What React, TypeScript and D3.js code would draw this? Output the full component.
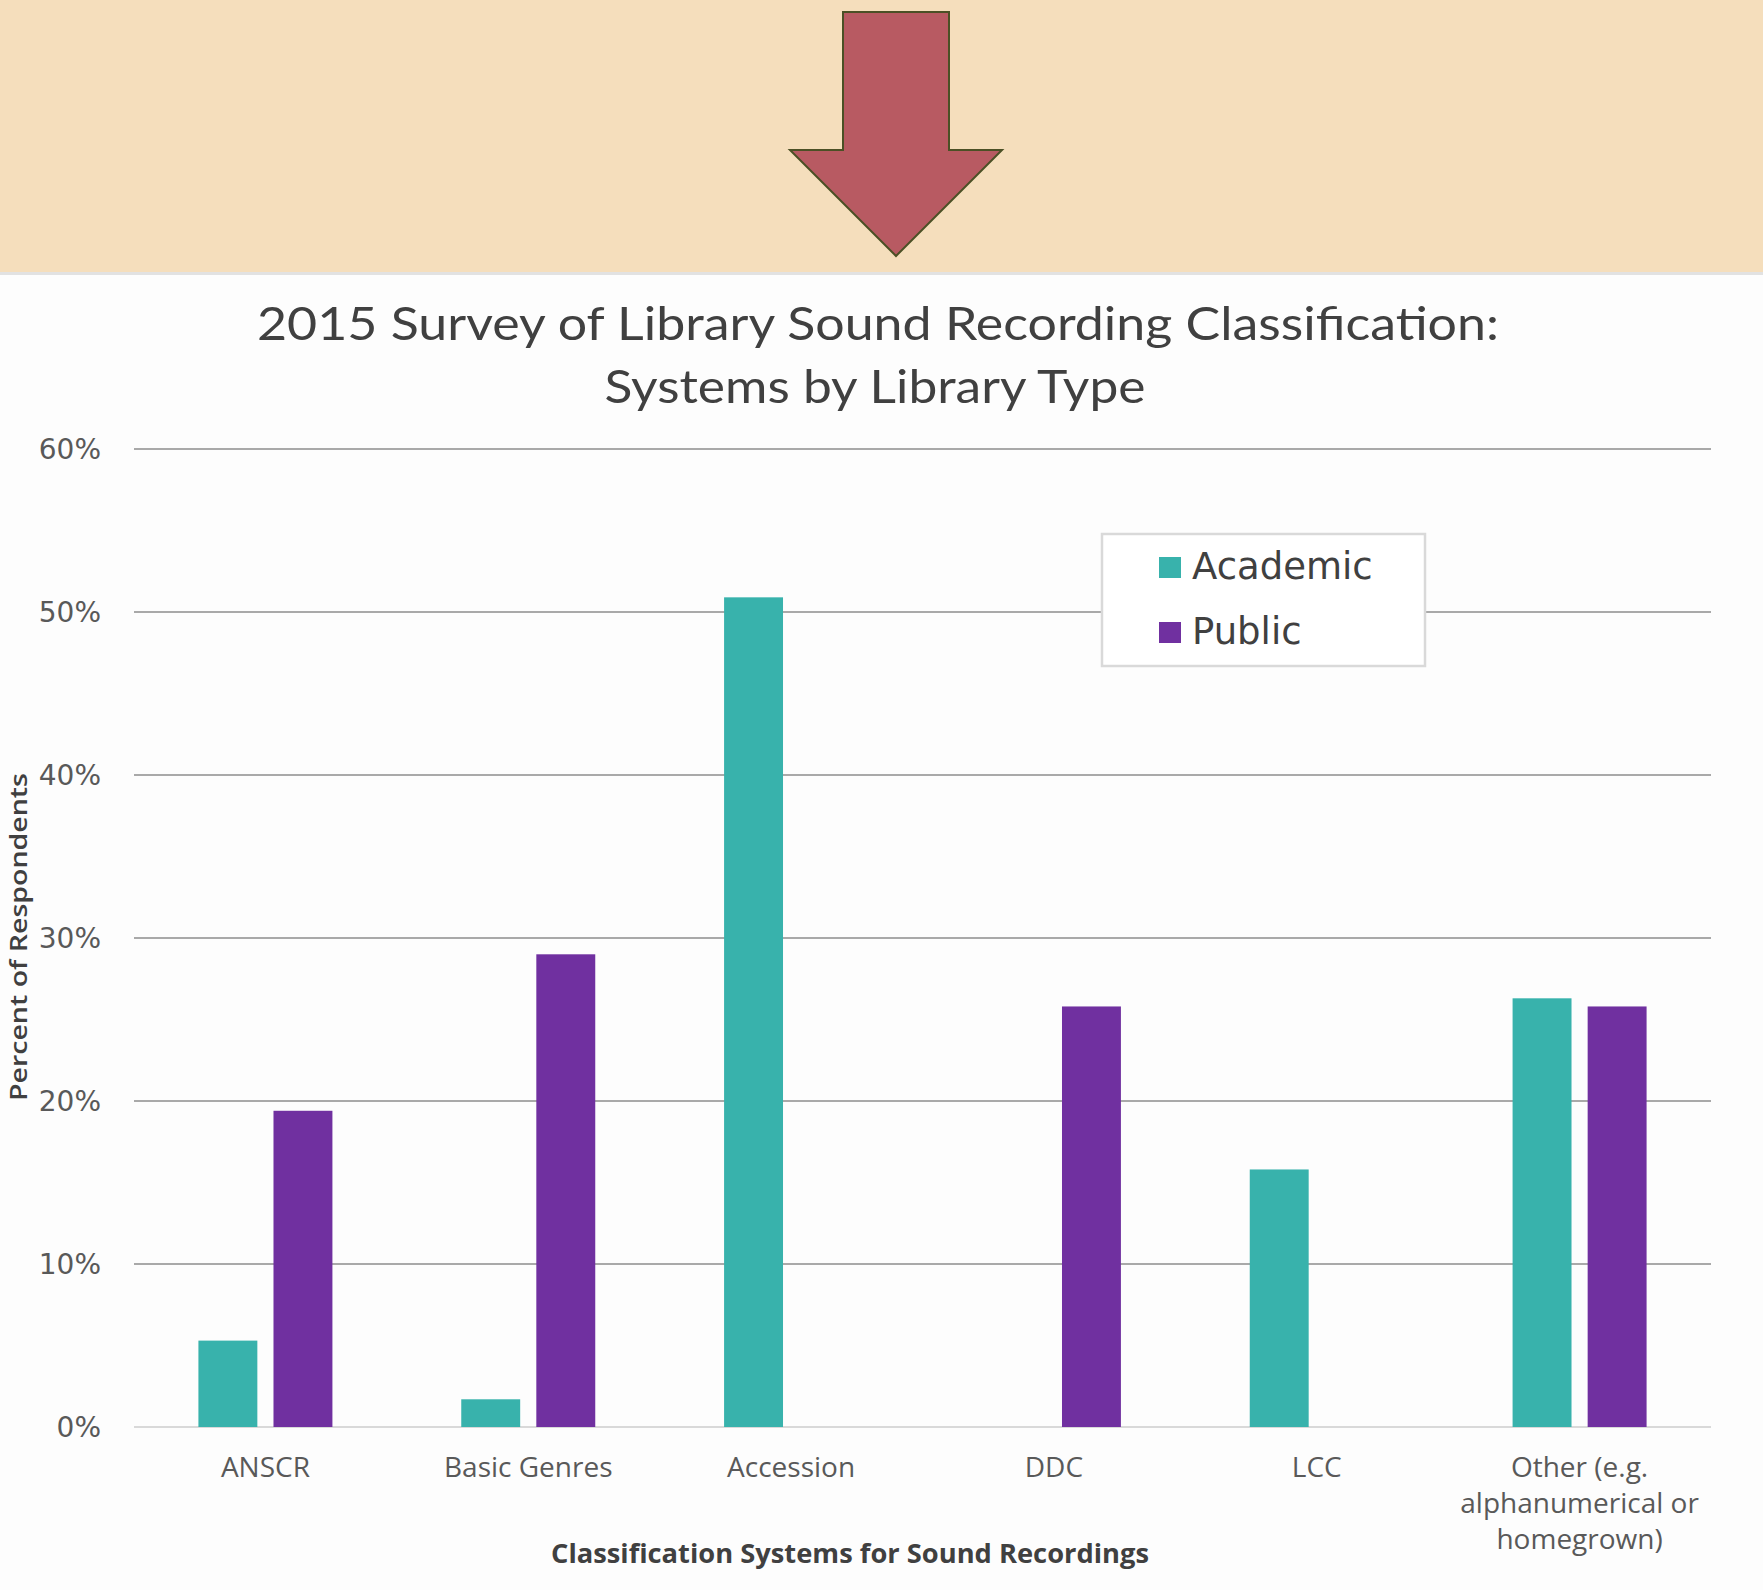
import React from "react";
import * as d3 from "d3";

const categories = [
  ["ANSCR"],
  ["Basic Genres"],
  ["Accession"],
  ["DDC"],
  ["LCC"],
  ["Other (e.g.", "alphanumerical or", "homegrown)"],
];
const seriesNames = ["Academic", "Public"];
const academic = [0.053, 0.017, 0.509, 0, 0.158, 0.263];
const publicLib = [0.194, 0.29, 0, 0.258, 0, 0.258];
const yTicks = [0, 0.1, 0.2, 0.3, 0.4, 0.5, 0.6];
const colors = ["#38B2AC", "#7030A0"];

const W = 1763;
const H = 1590;
const left = 134;
const right = 1711;
const top = 449;
const bottom = 1427;

export default function App() {
  const x0 = d3
    .scaleBand()
    .domain(categories.map((c) => c.join(" ")))
    .range([left, right])
    .padding(0);
  const x1 = d3.scaleBand().domain(seriesNames).range([-67, 67]).paddingInner(0.215);
  const y = d3.scaleLinear().domain([0, 0.6]).range([bottom, top]);
  const fmt = d3.format(".0%");
  const values = [academic, publicLib];

  return (
    <svg
      width={W}
      height={H}
      style={{ position: "absolute", left: 0, top: 0, background: "#fdfdfd" }}
    >
      {/* slide header with arrow */}
      <rect x={0} y={0} width={W} height={272} fill="#F5DEBC" />
      <rect x={0} y={272} width={W} height={3} fill="#e2e2e2" />
      <polygon
        points="843,12 949,12 949,150 1002,150 896,256 790,150 843,150"
        fill="#B85A62"
        stroke="#4B5025"
        strokeWidth={2}
      />

      {/* title */}
      <g fontFamily="Lato, 'Noto Sans', sans-serif" fill="#404040" fontSize={47}>
        <text x={878} y={340} textAnchor="middle" textLength={1242} lengthAdjust="spacingAndGlyphs">
          2015 Survey of Library Sound Recording Classification:
        </text>
        <text x={875} y={403} textAnchor="middle" textLength={541} lengthAdjust="spacingAndGlyphs">
          Systems by Library Type
        </text>
      </g>

      {/* gridlines + y ticks */}
      {yTicks.map((t) => (
        <g key={t}>
          <line
            x1={left}
            x2={right}
            y1={y(t)}
            y2={y(t)}
            stroke={t === 0 ? "#d9d9d9" : "#8c8c8c"}
            strokeWidth={t === 0 ? 2 : 1.5}
          />
          <text
            x={101}
            y={y(t)}
            dy="0.36em"
            textAnchor="end"
            fontFamily="'DejaVu Sans', sans-serif"
            fontSize={28}
            fill="#595959"
          >
            {fmt(t)}
          </text>
        </g>
      ))}

      {/* bars */}
      {categories.map((c, i) => {
        const cx = x0(c.join(" "))! + x0.bandwidth() / 2;
        return (
          <g key={i}>
            {seriesNames.map((s, j) =>
              values[j][i] > 0 ? (
                <rect
                  key={s}
                  x={cx + x1(s)!}
                  y={y(values[j][i])}
                  width={x1.bandwidth()}
                  height={bottom - y(values[j][i])}
                  fill={colors[j]}
                />
              ) : null
            )}
            <text
              x={cx}
              y={1477}
              textAnchor="middle"
              fontFamily="'Open Sans', sans-serif"
              fontSize={28}
              fill="#595959"
            >
              {c.map((line, k) => (
                <tspan key={k} x={cx} dy={k === 0 ? 0 : 36}>
                  {line}
                </tspan>
              ))}
            </text>
          </g>
        );
      })}

      {/* axis titles */}
      <text
        x={850}
        y={1563}
        textAnchor="middle"
        fontFamily="'Open Sans', sans-serif"
        fontWeight={700}
        fontSize={27}
        fill="#404040"
        textLength={598}
        lengthAdjust="spacingAndGlyphs"
      >
        Classification Systems for Sound Recordings
      </text>
      <text
        transform="translate(27,937) rotate(-90)"
        textAnchor="middle"
        fontFamily="'Open Sans', sans-serif"
        fontWeight={600}
        fontSize={24}
        fill="#404040"
        textLength={328}
        lengthAdjust="spacingAndGlyphs"
      >
        Percent of Respondents
      </text>

      {/* legend */}
      <rect x={1102} y={534} width={323} height={132} fill="#fff" stroke="#d9d9d9" strokeWidth={2.5} />
      {seriesNames.map((s, j) => (
        <g key={s} transform={`translate(0,${j * 65})`}>
          <rect x={1159} y={557} width={22} height={21} fill={colors[j]} />
          <text x={1192} y={579} fontFamily="'DejaVu Sans', sans-serif" fontSize={37} fill="#404040">
            {s}
          </text>
        </g>
      ))}
    </svg>
  );
}
